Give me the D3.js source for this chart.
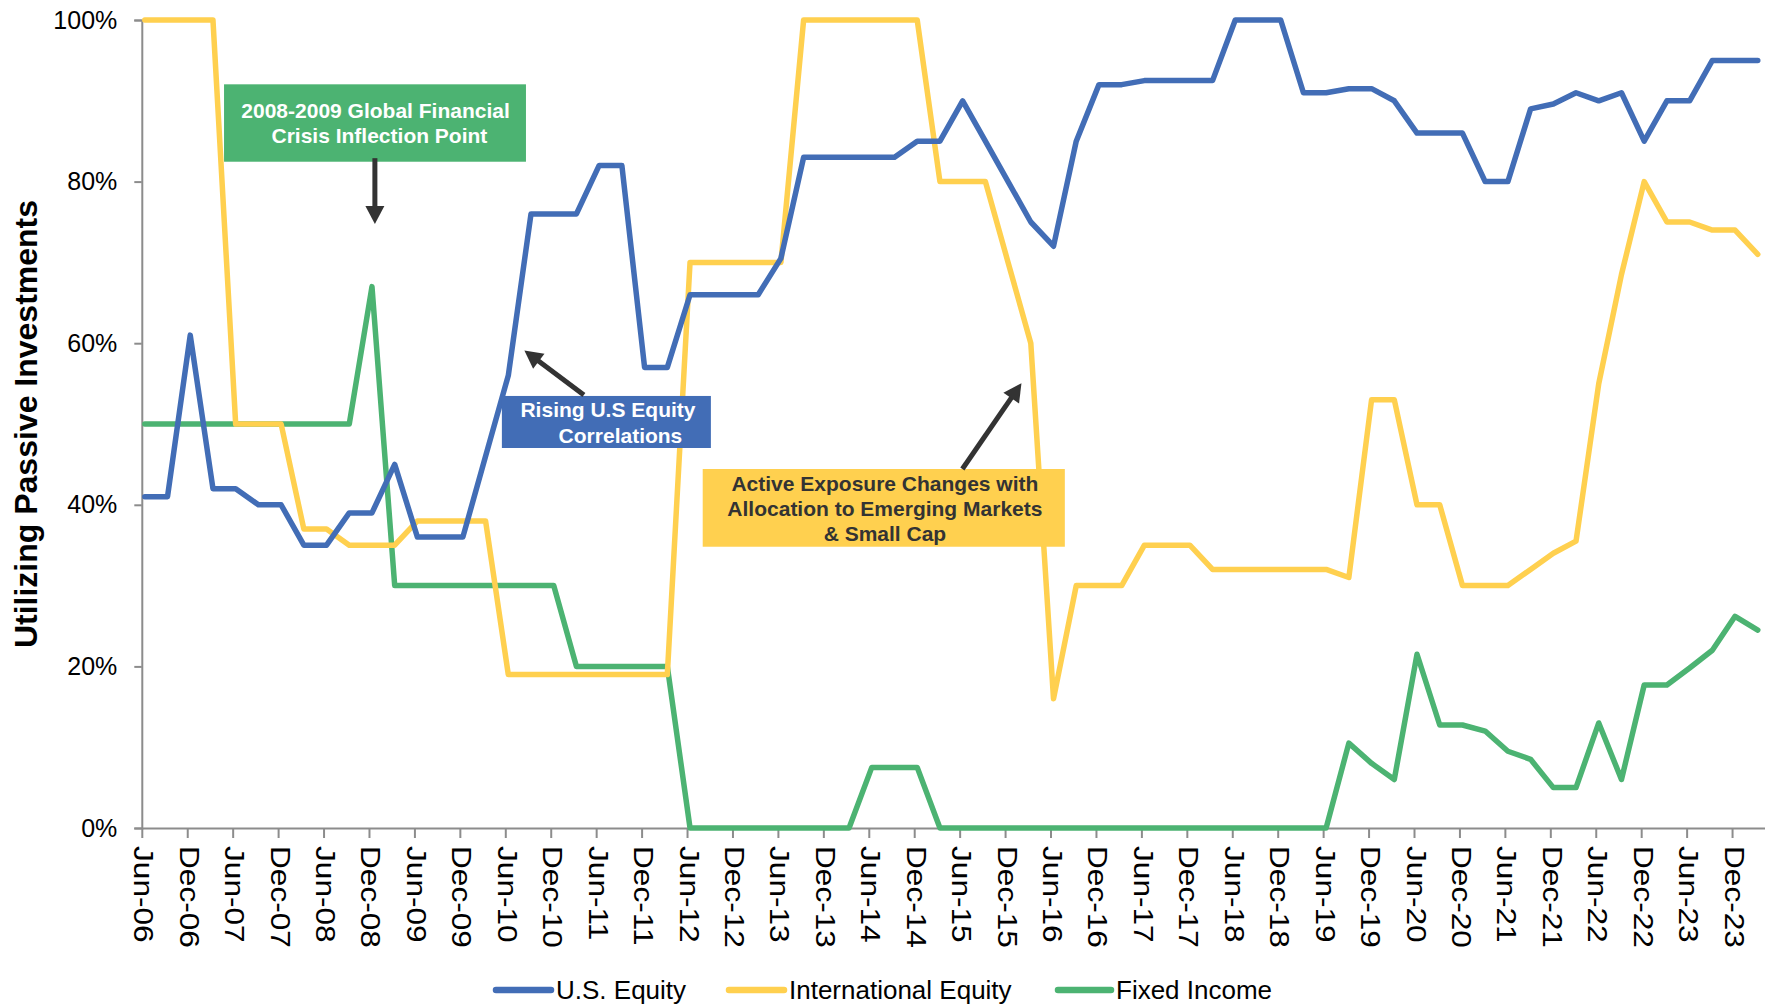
<!DOCTYPE html>
<html>
<head>
<meta charset="utf-8">
<script src="https://cdn.jsdelivr.net/npm/d3@7"></script>
<style>
  html, body { margin: 0; padding: 0; background: #fff; }
  svg { display: block; font-family: "Liberation Sans", Arial, sans-serif; }
</style>
</head>
<body>
<svg id="chart" width="1765" height="1006"></svg>
<script>
// ---------------- DATA ----------------
const quarters = ["Jun-06","Sep-06","Dec-06","Mar-07","Jun-07","Sep-07","Dec-07","Mar-08","Jun-08","Sep-08",
  "Dec-08","Mar-09","Jun-09","Sep-09","Dec-09","Mar-10","Jun-10","Sep-10","Dec-10","Mar-11",
  "Jun-11","Sep-11","Dec-11","Mar-12","Jun-12","Sep-12","Dec-12","Mar-13","Jun-13","Sep-13",
  "Dec-13","Mar-14","Jun-14","Sep-14","Dec-14","Mar-15","Jun-15","Sep-15","Dec-15","Mar-16",
  "Jun-16","Sep-16","Dec-16","Mar-17","Jun-17","Sep-17","Dec-17","Mar-18","Jun-18","Sep-18",
  "Dec-18","Mar-19","Jun-19","Sep-19","Dec-19","Mar-20","Jun-20","Sep-20","Dec-20","Mar-21",
  "Jun-21","Sep-21","Dec-21","Mar-22","Jun-22","Sep-22","Dec-22","Mar-23","Jun-23","Sep-23",
  "Dec-23","Mar-24"];

const usEquity = [41,41,61,42,42,40,40,35,35,39,
  39,45,36,36,36,46,56,76,76,76,
  82,82,57,57,66,66,66,66,70.5,83,
  83,83,83,83,85,85,90,85,80,75,
  72,85,92,92,92.5,92.5,92.5,92.5,100,100,
  100,91,91,91.5,91.5,90,86,86,86,80,
  80,89,89.6,91,90,91,85,90,90,95,
  95,95];

const intlEquity = [100,100,100,100,50,50,50,37,37,35,
  35,35,38,38,38,38,19,19,19,19,
  19,19,19,19,70,70,70,70,70,100,
  100,100,100,100,100,80,80,80,70,60,
  16,30,30,30,35,35,35,32,32,32,
  32,32,32,31,53,53,40,40,30,30,
  30,32,34,35.5,55,68.5,80,75,75,74,
  74,71];

const fixedIncome = [50,50,50,50,50,50,50,50,50,50,
  67,30,30,30,30,30,30,30,30,20,
  20,20,20,20,0,0,0,0,0,0,
  0,0,7.5,7.5,7.5,0,0,0,0,0,
  0,0,0,0,0,0,0,0,0,0,
  0,0,0,10.5,8,6,21.5,12.75,12.75,12,
  9.5,8.5,5,5,13,6,17.7,17.7,19.8,22,
  26.2,24.5];

const seriesNames = ["U.S. Equity", "International Equity", "Fixed Income"];
const yTicks = [0, 20, 40, 60, 80, 100];
const yTitle = "Utilizing Passive Investments";

const annotationTexts = {
  gfc: ["2008-2009  Global Financial", "Crisis Inflection Point"],
  corr: ["Rising U.S Equity", "Correlations"],
  active: ["Active  Exposure Changes with", "Allocation  to Emerging Markets", "& Small Cap"]
};

// ---------------- STYLE ----------------
const colors = ["#426DB6", "#FFD04F", "#4CB372"];
const axisColor = "#8c8c8c";
const arrowColor = "#333333";

// ---------------- SCALES ----------------
const svg = d3.select("#chart");
const x = d3.scaleLinear().domain([0, 71.45]).range([141.8, 1765]);
const xData = d3.scaleLinear().domain([0, 71.45]).range([144.8, 1768]);
const y = d3.scaleLinear().domain([0, 100]).range([828, 20]);

// ---------------- AXES ----------------
const yAxis = d3.axisLeft(y).tickValues(yTicks).tickFormat(d => d + "%").tickSize(7.5).tickPadding(17);
const gy = svg.append("g").attr("transform", `translate(${x(0)},0)`).call(yAxis);
gy.select(".domain").attr("stroke", axisColor).attr("stroke-width", 2);
gy.selectAll(".tick line").attr("stroke", axisColor).attr("stroke-width", 2);
gy.selectAll(".tick text").attr("fill", "#000").style("font-size", "25px");

const tickIdx = quarters.map((q, i) => i).filter(i => i % 2 === 0);
const xAxis = d3.axisBottom(x).tickValues(tickIdx).tickFormat(i => quarters[i]).tickSize(10).tickSizeOuter(0);
const gx = svg.append("g").attr("transform", `translate(0,${y(0)})`).call(xAxis);
gx.select(".domain").attr("stroke", axisColor).attr("stroke-width", 2);
gx.selectAll(".tick line").attr("stroke", axisColor).attr("stroke-width", 2);
gx.selectAll(".tick text")
  .attr("fill", "#000")
  .style("font-size", "28px")
  .attr("text-anchor", "start")
  .attr("dy", null)
  .attr("x", 0).attr("y", 0)
  .attr("transform", "rotate(90) translate(18,8) scale(1.13,1)");

// Y title
svg.append("text")
  .attr("transform", `translate(37,${(y(0) + y(100)) / 2}) rotate(-90)`)
  .attr("text-anchor", "middle")
  .style("font-size", "32px").style("font-weight", "bold")
  .attr("fill", "#000")
  .text(yTitle);

// ---------------- LINES ----------------
const allSeries = [usEquity, intlEquity, fixedIncome];
const line = d3.line().x((d, i) => xData(i)).y(d => y(d));
[2, 1, 0].forEach(k => {
  svg.append("path")
    .datum(allSeries[k])
    .attr("d", line)
    .attr("fill", "none")
    .attr("stroke", colors[k])
    .attr("stroke-width", 5.5)
    .attr("stroke-linejoin", "round")
    .attr("stroke-linecap", "round");
});

// ---------------- ANNOTATIONS (positioned in data space) ----------------
function arrow(i0, v0, i1, v1) {
  const x0 = x(i0), y0 = y(v0), x1 = x(i1), y1 = y(v1);
  const dx = x1 - x0, dy = y1 - y0, L = Math.hypot(dx, dy);
  const ux = dx / L, uy = dy / L, hl = 18, hw = 9.5;
  const bx = x1 - ux * hl, by = y1 - uy * hl;
  svg.append("line").attr("x1", x0).attr("y1", y0).attr("x2", bx + ux * 2).attr("y2", by + uy * 2)
    .attr("stroke", arrowColor).attr("stroke-width", 5);
  svg.append("path")
    .attr("d", `M${x1},${y1}L${bx - uy * hw},${by + ux * hw}L${bx + uy * hw},${by - ux * hw}Z`)
    .attr("fill", arrowColor);
}
function box(i0, i1, vTop, vBot, fill) {
  svg.append("rect")
    .attr("x", x(i0)).attr("y", y(vTop))
    .attr("width", x(i1) - x(i0)).attr("height", y(vBot) - y(vTop))
    .attr("fill", fill);
}
function label(lines, centers, baselines, fill) {
  lines.forEach((t, j) => {
    svg.append("text")
      .attr("x", x(centers[j])).attr("y", y(baselines[j]))
      .attr("text-anchor", "middle")
      .style("font-size", "21px").style("font-weight", "bold")
      .attr("fill", fill)
      .text(t);
  });
}

box(3.62, 16.91, 92.04, 82.46, colors[2]);
label(annotationTexts.gfc, [10.29, 10.46], [87.84, 84.82], "#ffffff");
arrow(10.26, 82.9, 10.26, 74.75);

box(15.85, 25.05, 53.47, 47.03, colors[0]);
label(annotationTexts.corr, [20.52, 21.07], [50.85, 47.7], "#ffffff");
arrow(19.46, 53.6, 16.84, 59.1);

box(24.69, 40.63, 44.43, 34.81, colors[1]);
label(annotationTexts.active, [32.71, 32.71, 32.71], [41.75, 38.61, 35.52], "#333333");
arrow(36.12, 44.43, 38.72, 55.04);

// ---------------- LEGEND ----------------
const legendItems = [
  {x0: 496, x1: 551, tx: 556},
  {x0: 729, x1: 784, tx: 789},
  {x0: 1058, x1: 1111, tx: 1116}
];
const lg = svg.append("g");
seriesNames.forEach((name, k) => {
  const it = legendItems[k];
  lg.append("line").attr("x1", it.x0).attr("x2", it.x1).attr("y1", 990).attr("y2", 990)
    .attr("stroke", colors[k]).attr("stroke-width", 6.5).attr("stroke-linecap", "round");
  lg.append("text").attr("x", it.tx).attr("y", 999)
    .style("font-size", "26px").attr("fill", "#000").text(name);
});
</script>
</body>
</html>
